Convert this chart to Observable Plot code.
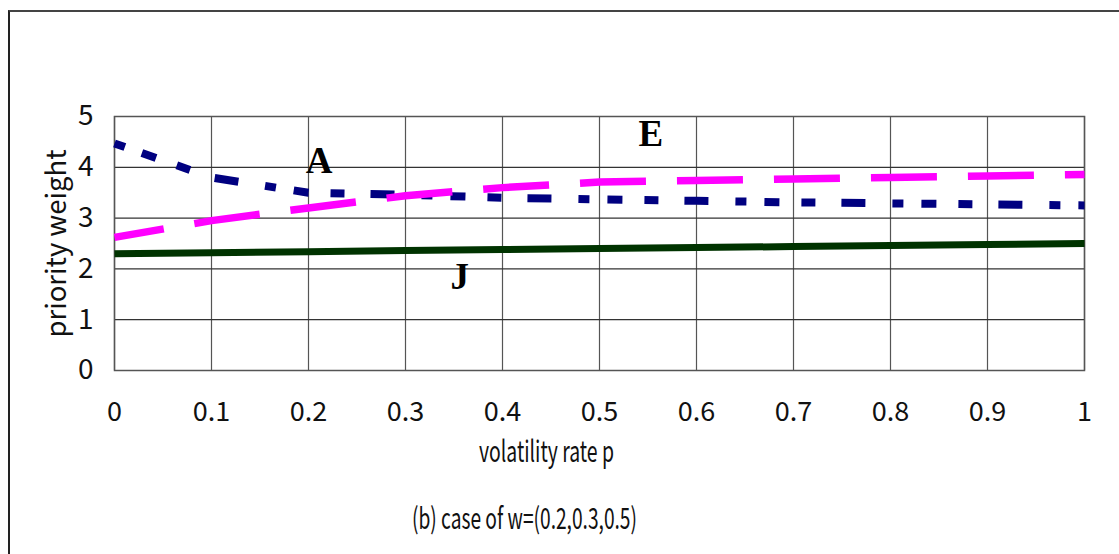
<!DOCTYPE html>
<html>
<head>
<meta charset="utf-8">
<script src="https://cdn.jsdelivr.net/npm/d3@7"></script>
<script src="https://cdn.jsdelivr.net/npm/@observablehq/plot@0.6"></script>
<style>
  html, body { margin: 0; padding: 0; background: #fff; }
  #wrap { position: relative; width: 1119px; height: 554px; overflow: hidden; }
  #border { position: absolute; left: 8px; top: 10px; right: -4px; bottom: -4px; border-left: 2px solid #222; border-top: 2px solid #444; }
  #chart { position: absolute; left: 0; top: 0; }
</style>
</head>
<body>
<div id="wrap"><div id="border"></div><div id="chart"></div></div>
<script>
const pValues = [0, 0.1, 0.2, 0.3, 0.4, 0.5, 0.6, 0.7, 0.8, 0.9, 1];
const seriesA = [4.47, 3.80, 3.50, 3.46, 3.40, 3.37, 3.34, 3.31, 3.29, 3.27, 3.25];
const seriesE = [2.62, 2.95, 3.20, 3.44, 3.60, 3.71, 3.74, 3.77, 3.80, 3.83, 3.86];
const seriesJ = [2.30, 2.32, 2.34, 2.36, 2.38, 2.40, 2.42, 2.44, 2.46, 2.48, 2.50];
const xTicks = [0, 0.1, 0.2, 0.3, 0.4, 0.5, 0.6, 0.7, 0.8, 0.9, 1];
const yTicks = [0, 1, 2, 3, 4, 5];
const seriesLabels = [
  {name: "A", p: 0.211, w: 4.12},
  {name: "E", p: 0.553, w: 4.65},
  {name: "J", p: 0.356, w: 1.84}
];
const yLabel = "priority weight";
const xLabel = "volatility rate p";
const caption = "(b) case of w=(0.2,0.3,0.5)";

const mk = (vals) => pValues.map((p, i) => ({p, w: vals[i]}));
const dataA = mk(seriesA), dataE = mk(seriesE), dataJ = mk(seriesJ);

const sansFont = "'Noto Sans CJK JP', 'Liberation Sans', Arial, sans-serif";
const fmtX = d => String(+(+d).toFixed(1));
const fmtY = d => String(d);

const chart = Plot.plot({
  width: 1119,
  height: 554,
  marginLeft: 114,
  marginRight: 35,
  marginTop: 116,
  marginBottom: 184,
  style: {fontFamily: sansFont, background: "transparent", overflow: "visible"},
  x: {domain: [0, 1], label: null},
  y: {domain: [0, 5], label: null},
  marks: [
    Plot.gridX(xTicks, {stroke: "#555", strokeOpacity: 1, strokeWidth: 1.2}),
    Plot.gridY(yTicks, {stroke: "#333", strokeOpacity: 1, strokeWidth: 1.2}),
    Plot.frame({stroke: "#555", strokeWidth: 1.5}),
    Plot.axisX({ticks: xTicks, tickFormat: fmtX, tickSize: 0, tickPadding: 31, fontSize: 27, label: null, fill: "#111"}),
    Plot.axisY({ticks: yTicks, tickFormat: fmtY, tickSize: 0, tickPadding: 21, fontSize: 28, label: null, fill: "#111"}),
    Plot.line(dataJ, {x: "p", y: "w", stroke: "#003300", strokeWidth: 7, strokeLinecap: "butt"}),
    Plot.line(dataA, {x: "p", y: "w", stroke: "#000080", strokeWidth: 8, strokeDasharray: "11,18,15,22,14,26,24,27", strokeLinecap: "butt"}),
    Plot.line(dataE, {x: "p", y: "w", stroke: "#ff00ff", strokeWidth: 7.5, strokeDasharray: "50,31,66,31,66,31,66,31,66,31,66,31,66,31,66,31,66,31,66,31", strokeLinecap: "butt"}),
    Plot.text(seriesLabels, {x: "p", y: "w", text: "name", fontFamily: "'Liberation Serif', 'Times New Roman', serif", fontWeight: "bold", fontSize: 37, fill: "#000"}),
    Plot.text([yLabel], {frameAnchor: "left", dx: -57, rotate: -90, textAnchor: "middle", fontSize: 28, fill: "#111"}),
    Plot.text([xLabel], {frameAnchor: "bottom", dx: -53, dy: 91, fontSize: 29, fill: "#111"}),
    Plot.text([caption], {frameAnchor: "bottom", dx: -75, dy: 158, fontSize: 29, fill: "#111"})
  ]
});
const fit = (txt, len) => d3.select(chart).selectAll("text")
  .filter(function() { return this.textContent === txt; })
  .attr("textLength", len).attr("lengthAdjust", "spacingAndGlyphs");
fit(yLabel, 188);
fit(xLabel, 135);
fit(caption, 225);
document.getElementById("chart").appendChild(chart);
</script>
</body>
</html>
